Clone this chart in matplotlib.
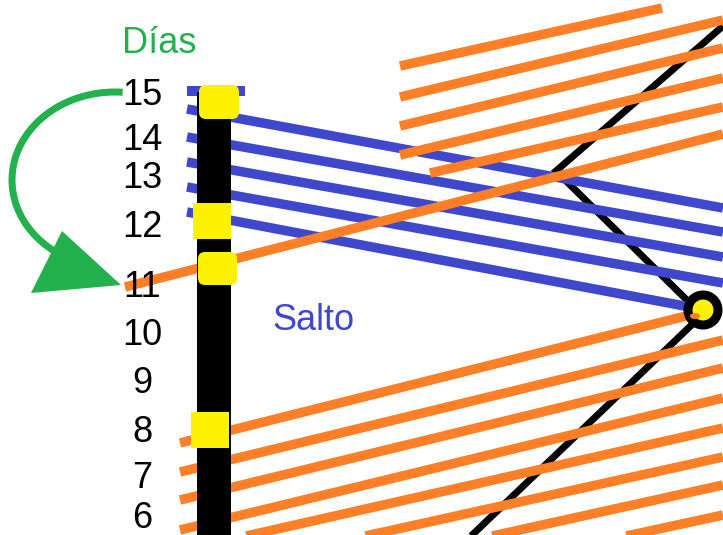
import matplotlib
matplotlib.use("Agg")
import matplotlib.pyplot as plt
from matplotlib.patches import FancyBboxPatch, Rectangle, Polygon, Arc, Circle, Ellipse

# ---- data (pixel-space diagram coordinates, y grows downward) ----
day_labels = ['15', '14', '13', '12', '11', '10', '9', '8', '7', '6']
day_label_y = [105, 150, 188, 237, 297, 345, 393, 442, 488, 528]
day_label_x = 142

# blue lines (left start -> right end)
blue_x0 = [187, 187, 187, 187, 187]
blue_y0 = [109, 137, 162, 187, 212]
blue_x1 = [723, 723, 723, 723, 695]
blue_y1 = [208, 232, 257, 283, 308]
blue_dash_x = [187, 245]
blue_dash_y = [91, 91]

# upper orange lines
orU_x0 = [400, 400, 400, 400, 430, 125]
orU_y0 = [66, 97, 126, 155, 173, 287]
orU_x1 = [662, 723, 723, 723, 723, 723]
orU_y1 = [8, 20, 48, 78, 107, 134]

# lower orange lines
orL_x0 = [180, 180, 180, 180, 180, 180, 180, 180]
orL_y0 = [443, 472, 500, 530, 551, 577, 605, 633]
orL_x1 = [690, 723, 723, 723, 723, 723, 723, 723]
orL_y1 = [315, 340, 368, 398, 428, 457, 485, 515]

# black zig-zag path
black_x = [470, 702, 556, 723]
black_y = [537, 315, 171, 26]

# vertical bar
bar_x, bar_y, bar_w, bar_h = 197, 92, 34, 450

# yellow markers: x, y, w, h, rounded
yel_x = [199, 193, 198, 191]
yel_y = [85, 203, 252, 412]
yel_w = [40, 38, 39, 38]
yel_h = [34, 36, 33, 36]
yel_round = [True, False, True, False]

# circle node
node_x, node_y, node_r = 703, 310, 15

# green arrow
arc_cx, arc_cy, arc_w, arc_h = 115, 180, 206, 176
arrow_head = [(62, 231), (31, 293), (121, 285)]

BLUE = '#3F48CC'
ORANGE = '#FF7F27'
YELLOW = '#FFF200'
GREEN = '#22B14C'
PX = 0.72  # px -> pt at dpi 100

fig = plt.figure(figsize=(7.23, 5.35), dpi=100)
ax = fig.add_axes([0, 0, 1, 1])
ax.set_xlim(0, 723)
ax.set_ylim(535, 0)
ax.axis('off')

# black diagonal
ax.plot(black_x, black_y, color='black', lw=7 * PX, solid_capstyle='butt',
        solid_joinstyle='miter', zorder=1)

# blue lines
for x0, y0, x1, y1 in zip(blue_x0, blue_y0, blue_x1, blue_y1):
    ax.plot([x0, x1], [y0, y1], color=BLUE, lw=9.5 * PX, solid_capstyle='butt', zorder=2)
ax.plot(blue_dash_x, blue_dash_y, color=BLUE, lw=10 * PX, solid_capstyle='butt', zorder=2)

# orange lines
for x0, y0, x1, y1 in zip(orU_x0, orU_y0, orU_x1, orU_y1):
    ax.plot([x0, x1], [y0, y1], color=ORANGE, lw=9.5 * PX, solid_capstyle='butt', zorder=3)
for x0, y0, x1, y1 in zip(orL_x0, orL_y0, orL_x1, orL_y1):
    ax.plot([x0, x1], [y0, y1], color=ORANGE, lw=9.5 * PX, solid_capstyle='butt', zorder=3)

# bar
ax.add_patch(Rectangle((bar_x, bar_y), bar_w, bar_h, facecolor='black',
                       edgecolor='none', zorder=4))

# yellow markers
for x, y, w, h, r in zip(yel_x, yel_y, yel_w, yel_h, yel_round):
    style = 'round,pad=0,rounding_size=7' if r else 'square,pad=0'
    ax.add_patch(FancyBboxPatch((x, y), w, h, boxstyle=style, facecolor=YELLOW,
                                edgecolor='none', zorder=5))

# node circle
ax.add_patch(Circle((node_x, node_y), node_r, facecolor=YELLOW, edgecolor='black',
                    lw=9 * PX, zorder=6))
ax.add_patch(Ellipse((node_x - 8, node_y + 6), 10, 6, facecolor=ORANGE,
                     edgecolor='none', zorder=6.5))

# green arrow
ax.add_patch(Arc((arc_cx, arc_cy), arc_w, arc_h, theta1=130, theta2=275,
                 color=GREEN, lw=7 * PX, zorder=6))
ax.add_patch(Polygon(arrow_head, closed=True, facecolor=GREEN, edgecolor='none', zorder=6))

# texts
font = 'Liberation Sans'
for lab, y in zip(day_labels, day_label_y):
    ax.text(day_label_x, y, lab, ha='center', va='baseline', fontsize=26,
            family=font, color='black', zorder=7)
ax.text(159, 53, 'Días', ha='center', va='baseline', fontsize=26, family=font,
        color=GREEN, zorder=7)
ax.text(272, 330, 'Salto', ha='left', va='baseline', fontsize=26, family=font,
        color=BLUE, zorder=7)

fig.savefig('out.png', dpi=100)
